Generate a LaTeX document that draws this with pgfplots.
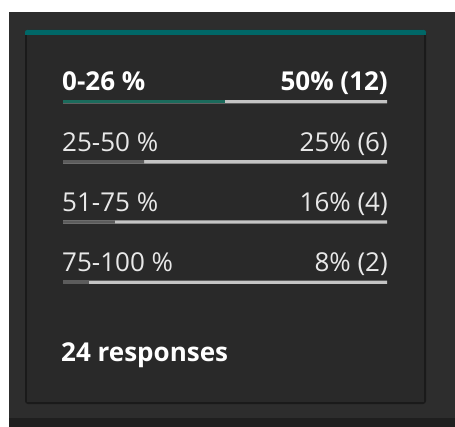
\documentclass[border=0pt]{standalone}
\usepackage{pgfplots}
\pgfplotsset{compat=1.18}
\usepackage{fontspec}
\setmainfont{Open Sans}
\definecolor{outerbg}{HTML}{2D2D2D}
\definecolor{cardbg}{HTML}{292929}
\definecolor{cardborder}{HTML}{1A1A1A}
\definecolor{bottomstrip}{HTML}{1F1F1F}
\definecolor{topteal}{HTML}{006767}
\definecolor{barteal}{HTML}{1B6B5C}
\definecolor{bargray}{HTML}{5C5C5C}
\definecolor{track}{HTML}{C4C4C4}
\definecolor{headtext}{HTML}{FFFFFF}
\definecolor{rowtext}{HTML}{E8E8E8}
\newcommand{\lblfont}{\fontsize{26}{30}\selectfont}
\begin{document}
\begin{tikzpicture}
% canvas 455 x 427 (1px = 1pt), y measured downward from the top
\useasboundingbox (0pt,0pt) rectangle (455pt,-427pt);
\fill[white] (0pt,0pt) rectangle (455pt,-427pt);
\fill[outerbg] (9pt,-12pt) rectangle (455pt,-418pt);
\fill[bottomstrip] (9pt,-418pt) rectangle (455pt,-427pt);
\fill[cardborder, rounded corners=3pt] (25pt,-30pt) rectangle (426pt,-404pt);
\fill[cardbg] (27pt,-34pt) rectangle (424pt,-402pt);
\fill[topteal, rounded corners=2pt] (25pt,-30pt) rectangle (426pt,-35pt);
\fill[topteal] (25pt,-33pt) rectangle (426pt,-35pt);
\begin{axis}[
  at={(63pt,-71.6pt)}, anchor=north west,
  width=324pt, height=240.8pt, scale only axis,
  xmin=0, xmax=100, ymin=0.5, ymax=4.5,
  y dir=reverse, hide axis, clip=false,
  xbar, bar width=3.3pt, bar shift=0pt,
]
\addplot[draw=none, fill=track] coordinates {(100,1) (100,2) (100,3) (100,4)};
\addplot[draw=none, fill=barteal] coordinates {(50,1)};
\addplot[draw=none, fill=bargray] coordinates {(25,2) (16,3) (8,4)};
\node[anchor=base west, text=headtext, font=\lblfont\bfseries, inner sep=0pt] at (axis cs:0,1) [yshift=10.8pt, xshift=-1pt] {0-26 \%};
\node[anchor=base east, text=headtext, font=\lblfont\bfseries, inner sep=0pt] at (axis cs:100,1) [yshift=10.8pt, xshift=1pt] {50\% (12)};
\node[anchor=base west, text=rowtext, font=\lblfont, inner sep=0pt] at (axis cs:0,2) [yshift=10.8pt, xshift=-1pt] {25-50 \%};
\node[anchor=base east, text=rowtext, font=\lblfont, inner sep=0pt] at (axis cs:100,2) [yshift=10.8pt, xshift=1pt] {25\% (6)};
\node[anchor=base west, text=rowtext, font=\lblfont, inner sep=0pt] at (axis cs:0,3) [yshift=10.8pt, xshift=-1pt] {51-75 \%};
\node[anchor=base east, text=rowtext, font=\lblfont, inner sep=0pt] at (axis cs:100,3) [yshift=10.8pt, xshift=1pt] {16\% (4)};
\node[anchor=base west, text=rowtext, font=\lblfont, inner sep=0pt] at (axis cs:0,4) [yshift=10.8pt, xshift=-1pt] {75-100 \%};
\node[anchor=base east, text=rowtext, font=\lblfont, inner sep=0pt] at (axis cs:100,4) [yshift=10.8pt, xshift=1pt] {8\% (2)};
\end{axis}
\node[anchor=base west, text=headtext, font=\lblfont\bfseries, inner sep=0pt] at (61pt,-362pt) {24 responses};
\end{tikzpicture}
\end{document}
